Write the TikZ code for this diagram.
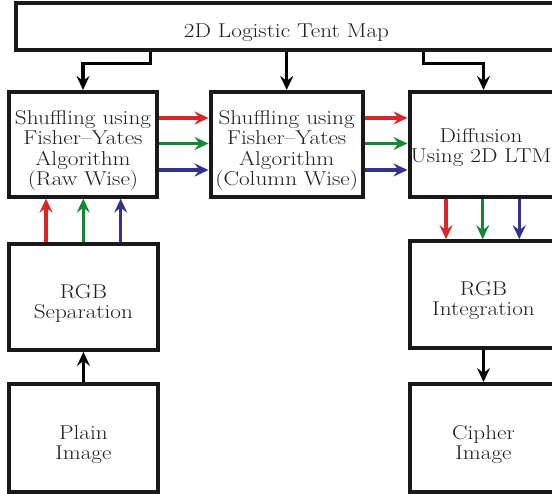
\documentclass[tikz,border=0pt]{standalone}
\usepackage{fontspec}
\setmainfont{Latin Modern Roman}[FakeStretch=1.16]
\usetikzlibrary{arrows.meta}
\definecolor{cR}{RGB}{214,40,40}
\definecolor{cG}{RGB}{20,135,55}
\definecolor{cB}{RGB}{52,50,145}
\begin{document}
\begin{tikzpicture}[x=1pt,y=-1pt,
  box/.style={draw=black!90, line width=4pt, rectangle, inner sep=0pt, fill=white},
  txt/.style={align=center, inner sep=0pt, font=\fontsize{20}{20.5}\selectfont, text=black!88},
  arr/.style={line width=3.5pt, -{Stealth[length=14pt,width=13pt,inset=5pt]}},
]
\useasboundingbox (0,0) rectangle (552,494);
\clip (0,0) rectangle (552,494);
\fill[white] (0,0) rectangle (552,494);
% boxes
\node[box, minimum width=542pt, minimum height=47.5pt] (top) at (287,26.75) {};
\node[txt, anchor=base] (ttop) at (286.5,38) {2D Logistic Tent Map};
\node[box, minimum width=148pt, minimum height=104.7pt] (b1) at (83,144.3) {};
\node[box, minimum width=152.3pt, minimum height=104.7pt] (b2) at (286.7,144.3) {};
\node[box, minimum width=148pt, minimum height=104.7pt] (b3) at (483.5,144.3) {};
\node[box, minimum width=149pt, minimum height=105.5pt] (sep) at (83.4,297.2) {};
\node[box, minimum width=149pt, minimum height=107pt] (plain) at (83.4,438) {};
\node[box, minimum width=148pt, minimum height=106.6pt] (int) at (483.5,294.5) {};
\node[box, minimum width=148pt, minimum height=108pt] (cipher) at (483.5,438) {};
% texts
\node[txt] (t1) at ([yshift=-6pt]b1.center) {Shuffling using\\Fisher--Yates\\Algorithm\\(Raw Wise)};
\node[txt] (t2) at ([yshift=-6pt]b2.center) {Shuffling using\\Fisher--Yates\\Algorithm\\(Column Wise)};
\node[txt] (t3) at ([xshift=-2.5pt,yshift=-3pt]b3.center) {Diffusion\\Using 2D LTM};
\node[txt] (tsep) at ([yshift=-6.5pt]sep.center) {RGB\\Separation};
\node[txt] (tplain) at ([yshift=-6.5pt]plain.center) {Plain\\Image};
\node[txt] (tint) at ([yshift=-6pt]int.center) {RGB\\Integration};
\node[txt] (tcipher) at ([yshift=-6.5pt]cipher.center) {Cipher\\Image};
% helper coordinates
\coordinate (k1) at (150.5,63.5);
\coordinate (k3) at (423.5,63.5);
\coordinate (yR) at (0,118);
\coordinate (yG) at (0,143.5);
\coordinate (yB) at (0,170);
\coordinate (xl1) at (46,0);
\coordinate (xl2) at (83.3,0);
\coordinate (xl3) at (120.7,0);
\coordinate (xr1) at (446,0);
\coordinate (xr2) at (482.7,0);
\coordinate (xr3) at (519.3,0);
% top arrows
\draw[arr] (top.south -| k1) -- (k1) -| (b1.north);
\draw[arr] (top.south -| b2.north) -- (b2.north);
\draw[arr] (top.south -| k3) -- (k3) -| (b3.north);
% horizontal colored arrows
\draw[arr, cR] (b1.east |- yR) -- (b2.west |- yR);
\draw[arr, cG] (b1.east |- yG) -- (b2.west |- yG);
\draw[arr, cB] (b1.east |- yB) -- (b2.west |- yB);
\draw[arr, cR] (b2.east |- yR) -- (b3.west |- yR);
\draw[arr, cG] (b2.east |- yG) -- (b3.west |- yG);
\draw[arr, cB] (b2.east |- yB) -- (b3.west |- yB);
% vertical colored arrows
\draw[arr, cR] (sep.north -| xl1) -- (b1.south -| xl1);
\draw[arr, cG] (sep.north -| xl2) -- (b1.south -| xl2);
\draw[arr, cB] (sep.north -| xl3) -- (b1.south -| xl3);
\draw[arr, cR] (b3.south -| xr1) -- (int.north -| xr1);
\draw[arr, cG] (b3.south -| xr2) -- (int.north -| xr2);
\draw[arr, cB] (b3.south -| xr3) -- (int.north -| xr3);
% black vertical arrows
\draw[arr] (plain.north) -- (sep.south);
\draw[arr] (int.south) -- (cipher.north);
\end{tikzpicture}
\end{document}
